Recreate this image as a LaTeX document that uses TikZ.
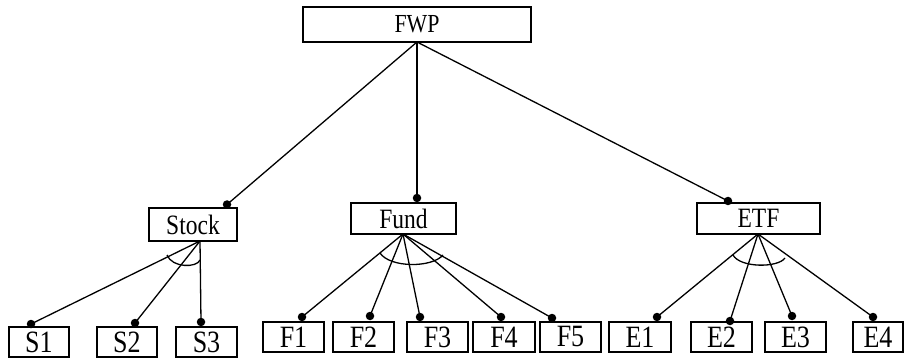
\documentclass[tikz,border=0pt]{standalone}
\usepackage{fontspec}
\newfontfamily\lab[FakeStretch=0.84]{Liberation Serif}
\begin{document}
\begin{tikzpicture}[x=1pt,y=-1pt,line width=1.3pt,
  box/.style={draw,rectangle,inner sep=0pt,anchor=center,font=\lab},
  topbox/.style={box,minimum width=228pt,minimum height=35pt,font=\lab\fontsize{26}{26}\selectfont},
  midbox/.style={box,minimum height=31pt,font=\lab\fontsize{28}{28}\selectfont},
  leafbox/.style={box,minimum width=61pt,minimum height=30pt,font=\lab\fontsize{31}{31}\selectfont},
  dotmark/.style={fill=black,circle,inner sep=0pt,minimum size=8.5pt},
  andarc/.style={line width=1.3pt}]
\useasboundingbox (0,0) rectangle (905,358);

% boxes
\node[topbox] (fwp) at (417,24.5) {FWP};
\node[midbox,minimum width=88pt,minimum height=33pt] (stock) at (193,224.5) {Stock};
\node[midbox,minimum width=105pt] (fund) at (403.5,218.5) {Fund};
\node[midbox,minimum width=123pt] (etf) at (758.5,218.5) {ETF};

\node[leafbox,minimum width=60pt] (s1) at (39,342) {S1};
\node[leafbox,minimum width=60pt] (s2) at (127,342) {S2};
\node[leafbox] (s3) at (206.5,342) {S3};

\node[leafbox] (f1) at (293.5,337) {F1};
\node[leafbox] (f2) at (363.5,337) {F2};
\node[leafbox] (f3) at (437.5,337) {F3};
\node[leafbox,minimum width=62pt] (f4) at (504,337) {F4};
\node[leafbox] (f5) at (570.5,337) {F5};

\node[leafbox,minimum width=62pt] (e1) at (640,337) {E1};
\node[leafbox] (e2) at (721.5,337) {E2};
\node[leafbox] (e3) at (795.5,337) {E3};
\node[leafbox,minimum width=50pt] (e4) at (878,337) {E4};

% fan origins
\coordinate (oF) at (417,42);
\coordinate (oS) at (200,241);
\coordinate (oU) at (403,234);
\coordinate (oE) at (758,234);

% attachment dots
\node[dotmark] (dStock) at (227,204.5) {};
\node[dotmark] (dFund) at (417,198) {};
\node[dotmark] (dEtf) at (728,201) {};
\node[dotmark] (dS1) at (31,324) {};
\node[dotmark] (dS2) at (135,323) {};
\node[dotmark] (dS3) at (201,322) {};
\node[dotmark] (dF1) at (302,317) {};
\node[dotmark] (dF2) at (370,316) {};
\node[dotmark] (dF3) at (420,317) {};
\node[dotmark] (dF4) at (501,317) {};
\node[dotmark] (dF5) at (552,318) {};
\node[dotmark] (dE1) at (657,317) {};
\node[dotmark] (dE2) at (730,321) {};
\node[dotmark] (dE3) at (792,316) {};
\node[dotmark] (dE4) at (873,317) {};

% connectors
\foreach \t in {dStock,dFund,dEtf} \draw (oF) -- (\t.center);
\foreach \t in {dS1,dS2,dS3} \draw (oS) -- (\t.center);
\foreach \t in {dF1,dF2,dF3,dF4,dF5} \draw (oU) -- (\t.center);
\foreach \t in {dE1,dE2,dE3,dE4} \draw (oE) -- (\t.center);

% AND arcs
\draw[andarc] (167,255) .. controls (172,268) and (197,268) .. (200,260);
\draw[andarc] (380,253) .. controls (390,268) and (432,268) .. (443,255);
\draw[andarc] (733,255) .. controls (740,268) and (778,268) .. (785,258);
\end{tikzpicture}
\end{document}
